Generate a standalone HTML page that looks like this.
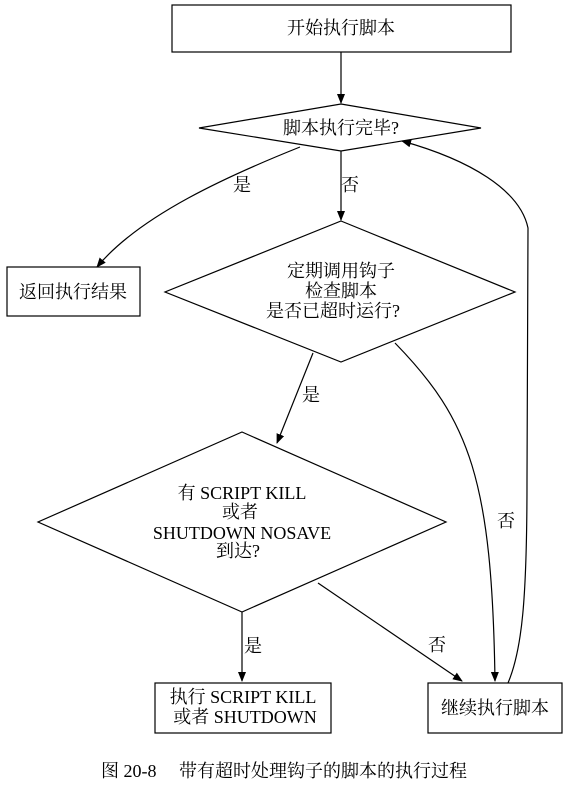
<!DOCTYPE html>
<html><head><meta charset="utf-8"><style>
html,body{margin:0;padding:0;background:#fff;}
svg text{font-family:"Liberation Serif","Noto Serif CJK SC","Noto Sans CJK SC",serif;font-size:18px;fill:#000;}
</style></head><body>
<svg width="567" height="791" viewBox="0 0 567 791" xmlns="http://www.w3.org/2000/svg">
<defs><marker id="a" markerWidth="10" markerHeight="8" refX="9" refY="4" orient="auto" markerUnits="userSpaceOnUse"><path d="M0,0 L10,4 L0,8 z" fill="#000"/></marker></defs>
<g fill="none" stroke="#000" stroke-width="1.2">
<rect x="172" y="5" width="339" height="47"/>
<polygon points="341,104 481,128 341,151 199,128"/>
<rect x="7" y="267" width="133" height="49"/>
<polygon points="341,221 515,292 341,362 165,292"/>
<polygon points="242,432 446,522 242,612 38,522"/>
<rect x="155" y="683" width="176" height="50"/>
<rect x="428" y="683" width="134" height="50"/>
<line x1="341" y1="52" x2="341" y2="103" marker-end="url(#a)"/>
<line x1="341" y1="151" x2="341" y2="220" marker-end="url(#a)"/>
<path d="M300,147 C230,175 140,215 97,267" marker-end="url(#a)"/>
<line x1="313" y1="353" x2="277" y2="443" marker-end="url(#a)"/>
<path d="M395,343 C470,420 492,480 495,681" marker-end="url(#a)"/>
<line x1="242" y1="612" x2="242" y2="681" marker-end="url(#a)"/>
<line x1="318" y1="583" x2="462" y2="681" marker-end="url(#a)"/>
<path d="M508,683 C522,650 527,600 527,480 L528,228 C520,190 470,160 402,141" marker-end="url(#a)"/>
</g>
<text x="341" y="34" text-anchor="middle">开始执行脚本</text>
<text x="341" y="134" text-anchor="middle">脚本执行完毕?</text>
<text x="73" y="298" text-anchor="middle">返回执行结果</text>
<text x="341" y="277" text-anchor="middle">定期调用钩子</text>
<text x="341" y="297" text-anchor="middle">检查脚本</text>
<text x="333" y="317" text-anchor="middle">是否已超时运行?</text>
<text x="242" y="499" text-anchor="middle">有 SCRIPT KILL</text>
<text x="240" y="518" text-anchor="middle">或者</text>
<text x="242" y="539" text-anchor="middle">SHUTDOWN NOSAVE</text>
<text x="238" y="557" text-anchor="middle">到达?</text>
<text x="243" y="703" text-anchor="middle">执行 SCRIPT KILL</text>
<text x="245" y="723" text-anchor="middle">或者 SHUTDOWN</text>
<text x="495" y="714" text-anchor="middle">继续执行脚本</text>
<text x="242" y="191" text-anchor="middle">是</text>
<text x="350" y="191" text-anchor="middle">否</text>
<text x="311" y="401" text-anchor="middle">是</text>
<text x="506" y="527" text-anchor="middle">否</text>
<text x="253" y="652" text-anchor="middle">是</text>
<text x="437" y="651" text-anchor="middle">否</text>
<text x="284" y="777" text-anchor="middle">图 20-8　 带有超时处理钩子的脚本的执行过程</text>
</svg>
</body></html>
